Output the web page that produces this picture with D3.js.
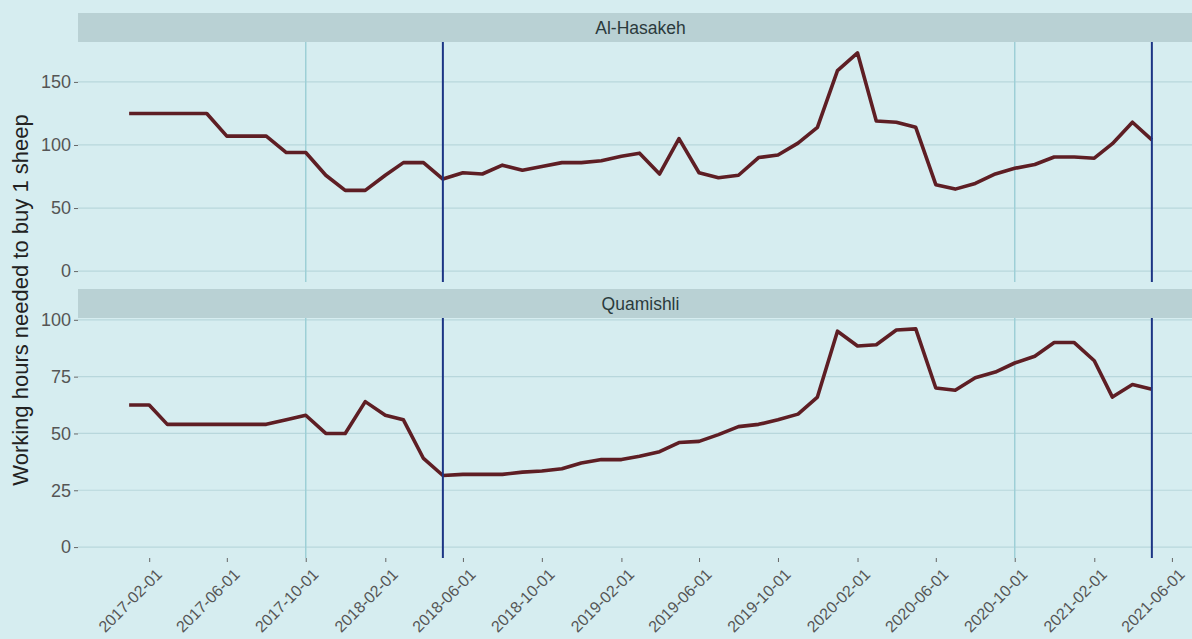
<!DOCTYPE html>
<html>
<head>
    <meta charset="utf-8">
    <script src="https://d3js.org/d3.v7.min.js"></script>
    <style>
        body { margin: 0; background: #d6edf0; overflow: hidden; }
        svg { display: block; font-family: "Liberation Sans", Arial, sans-serif; }
    </style>
</head>
<body>
    <svg id="chart"></svg>
    <script>
        // Monthly values, 2017-01 .. 2021-05
        const startMonth = "2017-01-01";
        const hasakeh = [
            125, 125, 125, 125, 125, 107, 107, 107, 94, 94, 76, 64,
            64, 76, 86, 86, 73, 78, 77, 84, 80, 83, 86, 86,
            87.5, 91, 93.5, 77, 105, 78, 74, 76, 90, 92, 101.5, 114,
            159, 173, 119, 118, 114, 68.5, 65, 69.5, 77, 81.5, 84.5, 90.5,
            90.5, 89.5, 101, 118, 104
        ];
        const quamishli = [
            62.5, 62.5, 54, 54, 54, 54, 54, 54, 56, 58, 50, 50,
            64, 58, 56, 39, 31.5, 32, 32, 32, 33, 33.5, 34.5, 37,
            38.5, 38.5, 40, 42, 46, 46.5, 49.5, 53, 54, 56, 58.5, 66,
            95, 88.5, 89, 95.5, 96, 70, 69, 74.5, 77, 81, 84, 90,
            90, 82, 66, 71.5, 69.5
        ];
        const panelNames = ["Al-Hasakeh", "Quamishli"];
        const panelValues = [hasakeh, quamishli];
        const yTicks = [[0, 50, 100, 150], [0, 25, 50, 75, 100]];
        const lightLines = ["2017-10-01", "2020-10-01"];
        const darkLines = ["2018-05-01", "2021-05-01"];
        const xTickLabels = [
            "2017-02-01", "2017-06-01", "2017-10-01", "2018-02-01", "2018-06-01",
            "2018-10-01", "2019-02-01", "2019-06-01", "2019-10-01", "2020-02-01",
            "2020-06-01", "2020-10-01", "2021-02-01", "2021-06-01"
        ];

        const width = 1192, height = 639;
        const svg = d3.select("#chart").attr("width", width).attr("height", height);

        const parse = d3.utcParse("%Y-%m-%d");
        const start = parse(startMonth);
        const dates = hasakeh.map((d, i) => d3.utcMonth.offset(start, i));

        // plot area (right edge runs past the window, as in the original)
        const left = 78, right = 1203;
        const dataExtent = d3.extent(dates);
        const span = dataExtent[1] - dataExtent[0];
        const x = d3.scaleUtc()
            .domain([new Date(+dataExtent[0] - span * 0.05), new Date(+dataExtent[1] + span * 0.05)])
            .range([left, right]);

        const panels = [
            { stripTop: 13, top: 42, bottom: 282 },
            { stripTop: 289, top: 318, bottom: 558 }
        ];
        const stripH = 29;

        panels.forEach((p, k) => {
            const vals = panelValues[k];
            const maxV = d3.max(vals);
            const pad = maxV * 0.05;
            const y = d3.scaleLinear().domain([-pad, maxV + pad]).range([p.bottom, p.top]);
            const g = svg.append("g");

            // strip
            g.append("rect")
                .attr("x", left).attr("y", p.stripTop)
                .attr("width", right - left).attr("height", stripH)
                .attr("fill", "#b9d1d4");
            g.append("text")
                .attr("x", (left + right) / 2).attr("y", p.stripTop + stripH / 2)
                .attr("dy", "0.36em")
                .attr("text-anchor", "middle")
                .attr("font-size", 17.5)
                .attr("fill", "#2b3a3c")
                .text(panelNames[k]);

            // gridlines
            g.selectAll(".grid")
                .data(yTicks[k])
                .enter().append("line")
                .attr("x1", left).attr("x2", right)
                .attr("y1", d => y(d)).attr("y2", d => y(d))
                .attr("stroke", "#b8d7dc").attr("stroke-width", 1.2);

            // y axis
            const yAxis = g.append("g")
                .attr("transform", `translate(${left},0)`)
                .call(d3.axisLeft(y).tickValues(yTicks[k]).tickSize(4).tickPadding(3));
            yAxis.select(".domain").remove();
            yAxis.selectAll(".tick line").attr("stroke", "#666").attr("stroke-width", 1);
            yAxis.selectAll(".tick text").attr("font-size", 18).attr("fill", "#555");

            // reference lines
            g.selectAll(".light")
                .data(lightLines)
                .enter().append("line")
                .attr("x1", d => x(parse(d))).attr("x2", d => x(parse(d)))
                .attr("y1", p.top).attr("y2", p.bottom)
                .attr("stroke", "#9dcfd6").attr("stroke-width", 1.5);

            // series line
            const line = d3.line()
                .x((d, i) => x(dates[i]))
                .y(d => y(d));
            g.append("path")
                .datum(vals)
                .attr("d", line)
                .attr("fill", "none")
                .attr("stroke", "#5e1e24")
                .attr("stroke-width", 3.6)
                .attr("stroke-linejoin", "round");

            g.selectAll(".dark")
                .data(darkLines)
                .enter().append("line")
                .attr("x1", d => x(parse(d))).attr("x2", d => x(parse(d)))
                .attr("y1", p.top).attr("y2", p.bottom)
                .attr("stroke", "#1c3585").attr("stroke-width", 2);
        });

        // x axis under the bottom panel
        const xAxis = svg.append("g")
            .attr("transform", `translate(0,${panels[1].bottom})`)
            .call(d3.axisBottom(x)
                .tickValues(xTickLabels.map(parse))
                .tickFormat(d3.utcFormat("%Y-%m-%d"))
                .tickSize(4).tickPadding(3));
        xAxis.select(".domain").remove();
        xAxis.selectAll(".tick line").attr("stroke", "#666");
        xAxis.selectAll(".tick text")
            .attr("font-size", 16)
            .attr("fill", "#555")
            .attr("text-anchor", "end")
            .attr("dy", "0.3em")
            .attr("transform", "translate(5,9) rotate(-45)");

        // y title
        svg.append("text")
            .attr("transform", `translate(28,${(panels[0].top + panels[1].bottom) / 2}) rotate(-90)`)
            .attr("text-anchor", "middle")
            .attr("font-size", 22)
            .attr("fill", "#222")
            .text("Working hours needed to buy 1 sheep");
    </script>
</body>
</html>
